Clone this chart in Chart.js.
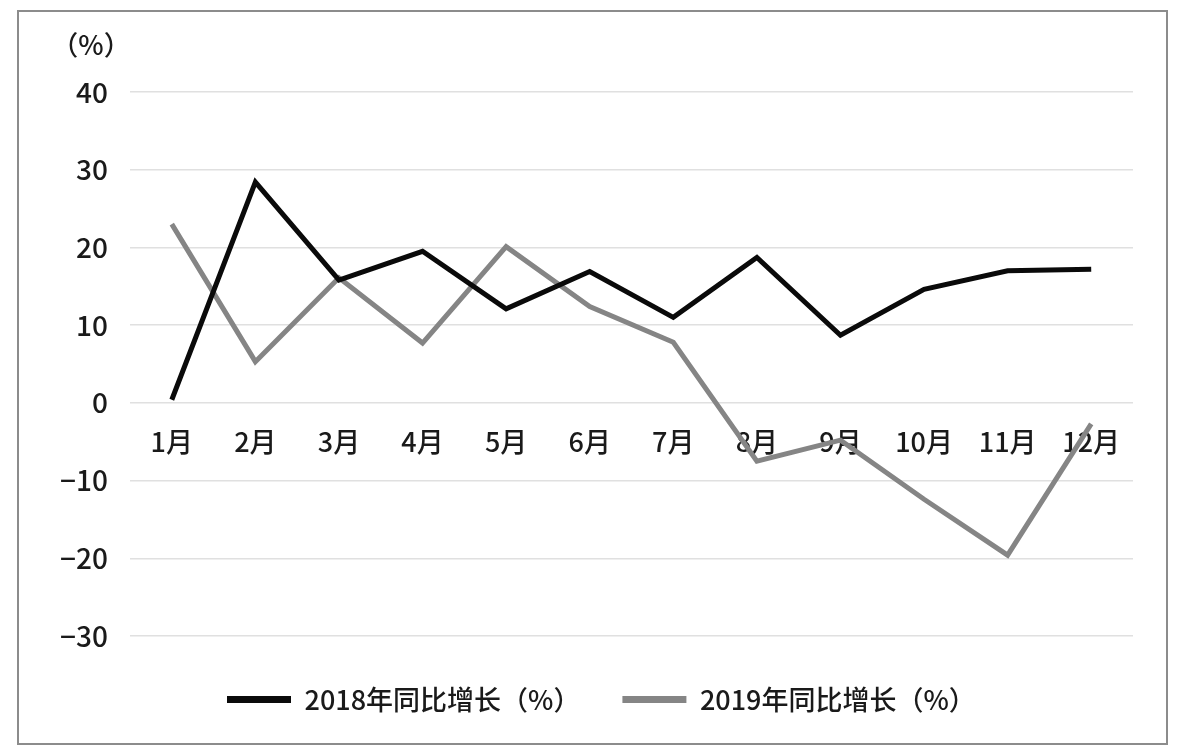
<!DOCTYPE html>
<html>
<head>
<meta charset="utf-8">
<script src="https://cdn.jsdelivr.net/npm/chart.js@4.4.1/dist/chart.umd.min.js"></script>
<style>
    html, body { margin: 0; padding: 0; background: #ffffff; }
    #frame {
        position: absolute;
        left: 17px;
        top: 10px;
        width: 1151px;
        height: 735px;
        box-sizing: border-box;
        border: 2px solid #8c8c8c;
        background: #fff;
    }
</style>
</head>
<body>
<div id="frame"><canvas id="growthChart"></canvas></div>
<script>
// Months along the x axis
const months = ['1月', '2月', '3月', '4月', '5月', '6月', '7月', '8月', '9月', '10月', '11月', '12月'];

// Year-on-year growth (%)
const growth2018 = [0.4, 28.4, 15.8, 19.5, 12.1, 16.9, 11.0, 18.7, 8.7, 14.6, 17.0, 17.2];
const growth2019 = [23.0, 5.3, 16.1, 7.7, 20.1, 12.4, 7.8, -7.5, -4.8, -12.4, -19.6, -2.7];

const seriesNames = ['2018年同比增长（%）', '2019年同比增长（%）'];
const seriesColors = ['#0a0a0a', '#858585'];

const yMin = -30;
const yMax = 40;
const yStep = 10;
const unitLabel = '（%）';

const fontFamily = '"Noto Sans CJK SC", "Noto Sans", sans-serif';
const textColor = '#1a1a1a';

// Draws the unit label above the y axis
const unitLabelPlugin = {
    id: 'unitLabel',
    afterLayout(chart) {
        // legend sits a bit lower and starts further right than chart.js would put it
        chart.legend.left = 208 - 42;
        chart.legend.top += 8;
        chart.legend.bottom += 8;
    },
    afterDraw(chart) {
        const ctx = chart.ctx;
        const yScale = chart.scales.y;
        ctx.save();
        ctx.font = `500 27px ${fontFamily}`;
        ctx.fillStyle = textColor;
        ctx.textAlign = 'center';
        ctx.textBaseline = 'middle';
        ctx.fillText(unitLabel, chart.chartArea.left - 39, yScale.getPixelForValue(yMax) - 47);
        ctx.restore();
    }
};

const ctx = document.getElementById('growthChart').getContext('2d');

new Chart(ctx, {
    type: 'line',
    data: {
        labels: months,
        datasets: [
            {
                label: seriesNames[0],
                data: growth2018,
                borderColor: seriesColors[0],
                backgroundColor: seriesColors[0],
                borderWidth: 5,
                borderJoinStyle: 'miter',
                pointRadius: 0,
                tension: 0
            },
            {
                label: seriesNames[1],
                data: growth2019,
                borderColor: seriesColors[1],
                backgroundColor: seriesColors[1],
                borderWidth: 5,
                borderJoinStyle: 'miter',
                pointRadius: 0,
                tension: 0
            }
        ]
    },
    options: {
        responsive: true,
        maintainAspectRatio: false,
        animation: false,
        layout: {
            padding: { top: 80, right: 33, bottom: 28, left: 0 }
        },
        plugins: {
            tooltip: { enabled: false },
            legend: {
                position: 'bottom',
                align: 'start',
                labels: {
                    boxWidth: 64,
                    boxHeight: 7,
                    padding: 42,
                    color: textColor,
                    font: { family: fontFamily, size: 27, weight: 500 },
                    generateLabels: function(chart) {
                        return chart.data.datasets.map((ds, i) => ({
                            text: ds.label,
                            fillStyle: ds.borderColor,
                            strokeStyle: ds.borderColor,
                            lineWidth: 0,
                            fontColor: textColor,
                            hidden: false,
                            datasetIndex: i
                        }));
                    }
                }
            }
        },
        scales: {
            x: {
                position: { y: 0 },
                offset: true,
                grid: { display: false, drawTicks: false },
                border: { display: false },
                ticks: {
                    padding: 23,
                    color: textColor,
                    font: { family: fontFamily, size: 27, weight: 500 },
                    maxRotation: 0
                }
            },
            y: {
                min: yMin,
                max: yMax,
                afterFit: function(scale) { scale.width = 111; },
                grid: { color: '#e0e0e0', lineWidth: 1.5, drawTicks: false },
                border: { display: false },
                ticks: {
                    stepSize: yStep,
                    padding: 22,
                    color: textColor,
                    font: { family: fontFamily, size: 28, weight: 500 },
                    callback: function(value) {
                        return value < 0 ? '\u2212' + Math.abs(value) : String(value);
                    }
                }
            }
        }
    },
    plugins: [unitLabelPlugin]
});
</script>
</body>
</html>
